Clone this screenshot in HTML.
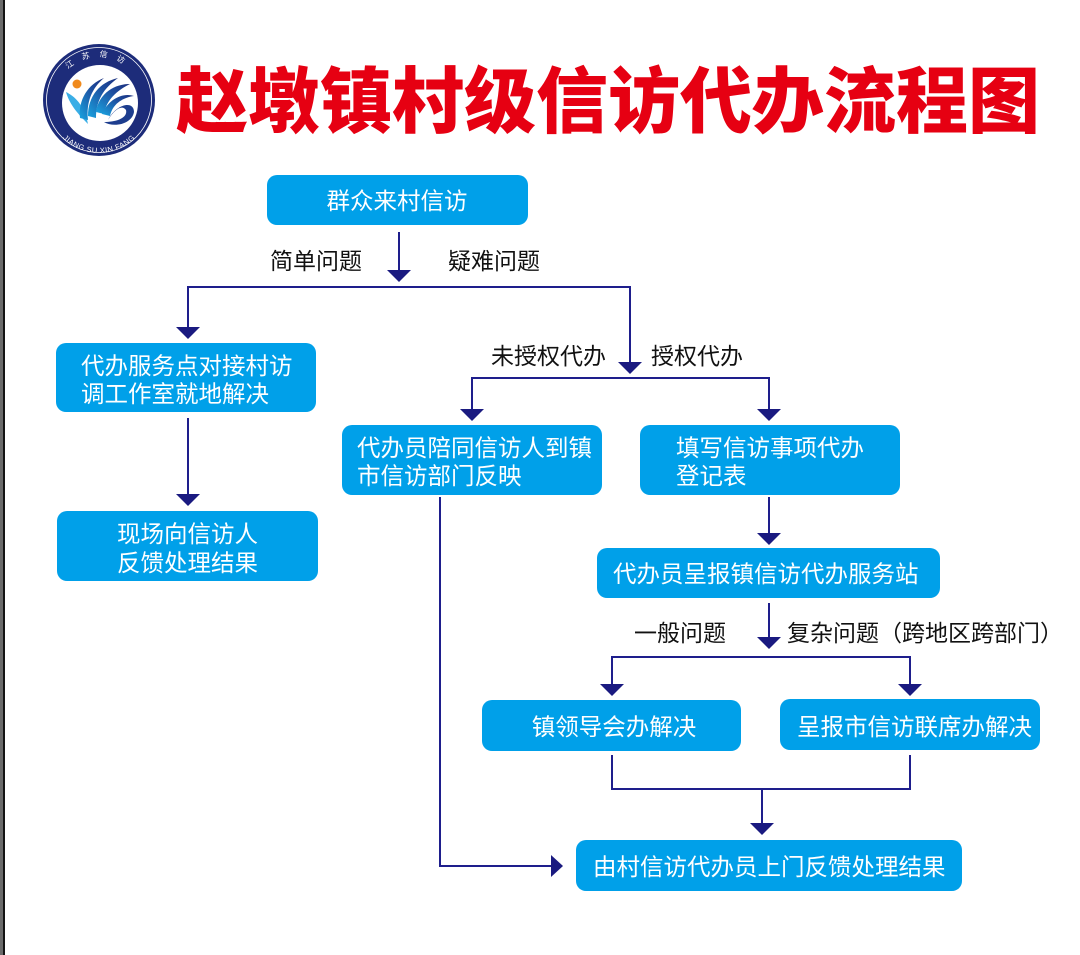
<!DOCTYPE html>
<html><head><meta charset="utf-8"><style>
html,body{margin:0;padding:0;background:#fff;}
svg{display:block;}
text{font-family:"Liberation Sans","Noto Sans CJK SC",sans-serif;}
</style></head><body>
<svg width="1080" height="955" viewBox="0 0 1080 955" xmlns="http://www.w3.org/2000/svg">
<defs>
<linearGradient id="bl" x1="0" y1="1" x2="1" y2="0">
<stop offset="0" stop-color="#1aa3e0"/><stop offset="0.6" stop-color="#1d4fa0"/><stop offset="1" stop-color="#1b2f7e"/>
</linearGradient>
<path id="botArc" d="M47 101 A52 52 0 0 0 151 101"/>
<path id="topArc" d="M55 101 A44 44 0 0 1 143 101"/>
</defs>
<rect width="1080" height="955" fill="#fff"/>
<rect x="0" y="0" width="3" height="955" fill="#6b6b6b"/>
<rect x="3" y="0" width="2" height="955" fill="#141414"/>

<!-- logo -->
<circle cx="99" cy="100" r="56" fill="#1d2c7a"/>
<circle cx="99" cy="100" r="52.5" fill="none" stroke="#fff" stroke-width="0.8"/>
<circle cx="100" cy="103" r="38" fill="#fff"/>
<circle cx="77" cy="84" r="4.5" fill="#f08a1c"/>
<path d="M66 92 C74 96 84 104 88 124 C80 116 70 106 66 92 Z" fill="#3aaee6"/>
<path d="M80 118 C78 100 88 84 104 78 C92 88 86 102 88 120 Z" fill="url(#bl)"/>
<path d="M88 116 C88 96 100 82 118 78 C104 88 96 100 96 118 Z" fill="url(#bl)"/>
<path d="M96 112 C98 96 112 84 130 84 C114 92 106 102 104 114 Z" fill="url(#bl)"/>
<path d="M102 114 C108 100 122 92 134 96 C120 98 112 106 110 116 Z" fill="url(#bl)"/>
<path d="M108 120 C116 104 134 100 134 112 C132 124 114 128 104 122 C116 122 128 118 126 110 C122 104 114 110 108 120 Z" fill="#1d3d8e"/>
<text font-size="7.5" fill="#fff" font-family="Liberation Serif,serif"><textPath href="#botArc" startOffset="50%" text-anchor="middle" letter-spacing="0.5">JIANG   SU   XIN   FANG</textPath></text>
<text font-size="8" fill="#fff"><textPath href="#topArc" startOffset="50%" text-anchor="middle" letter-spacing="9">江苏信访</textPath></text>

<!-- title -->
<text x="176" y="127" font-size="72" font-weight="900" fill="#e60012" textLength="864" lengthAdjust="spacing">赵墩镇村级信访代办流程图</text>

<!-- boxes -->
<g fill="#00a0e9">
<rect x="267" y="175" width="261" height="50" rx="10"/>
<rect x="56" y="343" width="260" height="69" rx="10"/>
<rect x="57" y="511" width="261" height="70" rx="10"/>
<rect x="342" y="425" width="260" height="70" rx="10"/>
<rect x="640" y="425" width="260" height="70" rx="10"/>
<rect x="597" y="548" width="343" height="50" rx="10"/>
<rect x="482" y="700" width="259" height="51" rx="10"/>
<rect x="780" y="699" width="260" height="51" rx="10"/>
<rect x="576" y="840" width="386" height="51" rx="10"/>
</g>

<!-- connectors -->
<g stroke="#1e1e8c" stroke-width="2" fill="none">
<path d="M399 232 V272"/>
<path d="M188 329 V287 H630 V364"/>
<path d="M472 411 V378 H769 V411"/>
<path d="M769 497 V535"/>
<path d="M440 497 V866 H553"/>
<path d="M769 603 V639"/>
<path d="M612 686 V657 H910 V686"/>
<path d="M612 755 V789 H910 V755"/>
<path d="M762 789 V825"/>
<path d="M188 418 V496"/>
</g>
<g fill="#1a1a80">
<polygon points="387,270 411,270 399,282"/>
<polygon points="176,327 200,327 188,339"/>
<polygon points="618,362 642,362 630,374"/>
<polygon points="460,409 484,409 472,421"/>
<polygon points="757,409 781,409 769,421"/>
<polygon points="176,494 200,494 188,506"/>
<polygon points="757,533 781,533 769,545"/>
<polygon points="757,637 781,637 769,649"/>
<polygon points="600,684 624,684 612,696"/>
<polygon points="898,684 922,684 910,696"/>
<polygon points="750,823 774,823 762,835"/>
<polygon points="551,855 551,877 563,866"/>
</g>

<!-- box text -->
<g fill="#fff" font-size="23.5">
<text x="397" y="209" text-anchor="middle">群众来村信访</text>
<text x="81" y="374">代办服务点对接村访</text>
<text x="81" y="402">调工作室就地解决</text>
<text x="187.5" y="542" text-anchor="middle">现场向信访人</text>
<text x="187.5" y="571" text-anchor="middle">反馈处理结果</text>
<text x="357" y="456">代办员陪同信访人到镇</text>
<text x="357" y="484">市信访部门反映</text>
<text x="676" y="456">填写信访事项代办</text>
<text x="676" y="484">登记表</text>
<text x="613" y="582">代办员呈报镇信访代办服务站</text>
<text x="614" y="735" text-anchor="middle">镇领导会办解决</text>
<text x="797" y="735">呈报市信访联席办解决</text>
<text x="593" y="875">由村信访代办员上门反馈处理结果</text>
</g>

<!-- labels -->
<g fill="#111" font-size="23">
<text x="270" y="269">简单问题</text>
<text x="448" y="269">疑难问题</text>
<text x="491" y="364">未授权代办</text>
<text x="651" y="364">授权代办</text>
<text x="634" y="641">一般问题</text>
<text x="787" y="641">复杂问题（跨地区跨部门）</text>
</g>
</svg>
</body></html>
